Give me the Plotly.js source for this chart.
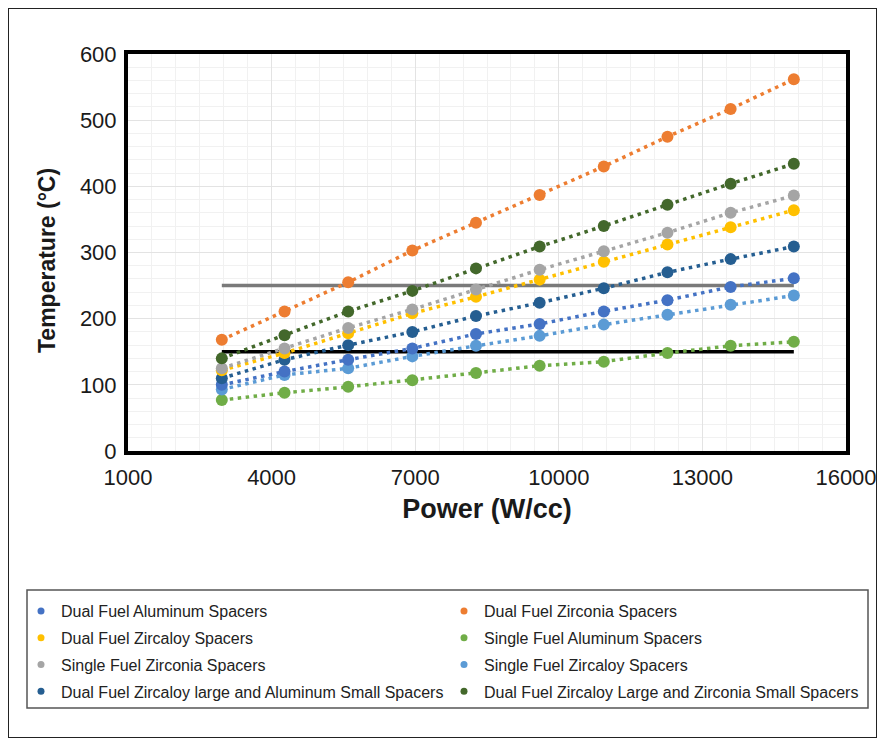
<!DOCTYPE html>
<html><head><meta charset="utf-8">
<script src="https://cdn.plot.ly/plotly-3.0.1.min.js"></script>
<style>
html,body{margin:0;padding:0;background:#fff}
#frame{position:absolute;left:8px;top:8px;width:867px;height:728px;border:1.5px solid #222;pointer-events:none}
</style></head><body>
<div id="chart" style="width:883px;height:746px"></div>
<div id="frame"></div>
<script>
const power = [2960, 4270, 5600, 6940, 8270, 9600, 10940, 12270, 13590, 14910];
const dualAluminum = [100, 120, 138, 155, 177, 192, 211, 228, 248, 261];
const dualZirconia = [168, 211, 255, 303, 345, 387, 430, 475, 517, 562];
const dualZircaloy = [122, 148, 178, 208, 233, 259, 286, 312, 338, 364];
const singleAluminum = [77, 88, 97, 107, 118, 129, 135, 148, 159, 165];
const singleZirconia = [125, 155, 186, 214, 244, 274, 302, 330, 360, 386];
const singleZircaloy = [93, 115, 125, 143, 159, 174, 191, 206, 221, 235];
const dualZrLargeAlSmall = [110, 138, 160, 180, 204, 224, 246, 270, 290, 309];
const dualZrLargeZrSmall = [140, 175, 211, 242, 276, 309, 340, 372, 404, 434];
const limitLevels = [250, 150];
const limitColors = ['#7a7a7a', '#000000'];
const xTitle = 'Power (W/cc)';
const yTitle = 'Temperature (°C)';

const seriesNames = [
  'Dual Fuel Aluminum Spacers',
  'Dual Fuel Zirconia Spacers',
  'Dual Fuel Zircaloy Spacers',
  'Single Fuel Aluminum Spacers',
  'Single Fuel Zirconia Spacers',
  'Single Fuel Zircaloy Spacers',
  'Dual Fuel Zircaloy large and Aluminum Small Spacers',
  'Dual Fuel Zircaloy Large and Zirconia Small Spacers'
];
const seriesValues = [dualAluminum, dualZirconia, dualZircaloy, singleAluminum,
  singleZirconia, singleZircaloy, dualZrLargeAlSmall, dualZrLargeZrSmall];
const seriesColors = ['#4472C4', '#ED7D31', '#FFC000', '#70AD47',
  '#A5A5A5', '#5B9BD5', '#255E91', '#43682B'];
// draw order (back to front)
const drawOrder = [3, 5, 0, 6, 2, 4, 7, 1];

const traces = [];
limitLevels.forEach((lv, i) => {
  traces.push({
    x: [power[0], power[power.length - 1]], y: [lv, lv],
    mode: 'lines', showlegend: false, hoverinfo: 'skip',
    line: {color: limitColors[i], width: 3.5}
  });
});
drawOrder.forEach(i => {
  traces.push({
    x: power, y: seriesValues[i], name: seriesNames[i],
    mode: 'lines+markers', showlegend: false,
    line: {color: seriesColors[i], width: 3.5, dash: '3.5px,4.5px'},
    marker: {color: seriesColors[i], size: 12}
  });
});
seriesNames.forEach((nm, i) => {
  traces.push({
    x: [null], y: [null], name: nm, mode: 'markers',
    legend: (i % 2 === 0) ? 'legend' : 'legend2',
    legendgroup: 'g' + i,
    marker: {color: seriesColors[i], size: 7}, showlegend: true
  });
});

const FONT = 'Liberation Sans, Arial, sans-serif';
const tickFont = {family: FONT, size: 22, color: '#1a1a1a'};
const legendCommon = {
  orientation: 'v', xref: 'container', yref: 'container',
  xanchor: 'left', yanchor: 'top', y: 1 - 594 / 746,
  bgcolor: 'rgba(0,0,0,0)', borderwidth: 0,
  font: {family: FONT, size: 16, color: '#222'},
  itemsizing: 'trace', traceorder: 'grouped', tracegroupgap: 3
};
const layout = {
  width: 883, height: 746,
  margin: {l: 128, r: 37, t: 54, b: 295, autoexpand: false},
  paper_bgcolor: '#ffffff', plot_bgcolor: '#ffffff',
  showlegend: true,
  xaxis: {
    range: [1000, 16000], tick0: 1000, dtick: 3000, tickformat: 'd',
    showgrid: true, gridcolor: '#e3e3e3', gridwidth: 1,
    minor: {dtick: 500, showgrid: true, gridcolor: '#f1f1f1', gridwidth: 1},
    showline: true, mirror: true, linecolor: '#000', linewidth: 4,
    zeroline: false, ticks: '', ticklabelstandoff: 4,
    tickfont: tickFont,
    title: {text: xTitle, standoff: 11,
      font: {family: FONT, size: 27, color: '#1a1a1a', weight: 'bold'}}
  },
  yaxis: {
    range: [0, 600], dtick: 100, tickformat: 'd',
    showgrid: true, gridcolor: '#e3e3e3', gridwidth: 1,
    minor: {dtick: 20, showgrid: true, gridcolor: '#f1f1f1', gridwidth: 1},
    showline: true, mirror: true, linecolor: '#000', linewidth: 4,
    zeroline: false, ticks: '', ticklabelstandoff: 3,
    tickfont: tickFont
  },
  annotations: [{
    text: '<b>' + yTitle + '</b>', xref: 'paper', yref: 'paper',
    x: (47 - 128) / 718, y: (451 - 261) / 397,
    xanchor: 'center', yanchor: 'middle', textangle: -90, showarrow: false,
    font: {family: FONT, size: 23, color: '#1a1a1a'}
  }],
  legend: Object.assign({}, legendCommon, {x: 21 / 883}),
  legend2: Object.assign({}, legendCommon, {x: 444 / 883}),
  shapes: [{
    type: 'rect', xref: 'paper', yref: 'paper',
    x0: (27 - 128) / 718, x1: (868 - 128) / 718,
    y0: (451 - 708) / 397, y1: (451 - 590) / 397,
    line: {color: '#555', width: 1.5}, fillcolor: 'rgba(0,0,0,0)', layer: 'above'
  }]
};
Plotly.newPlot('chart', traces, layout, {displayModeBar: false, staticPlot: true});
</script></body></html>
